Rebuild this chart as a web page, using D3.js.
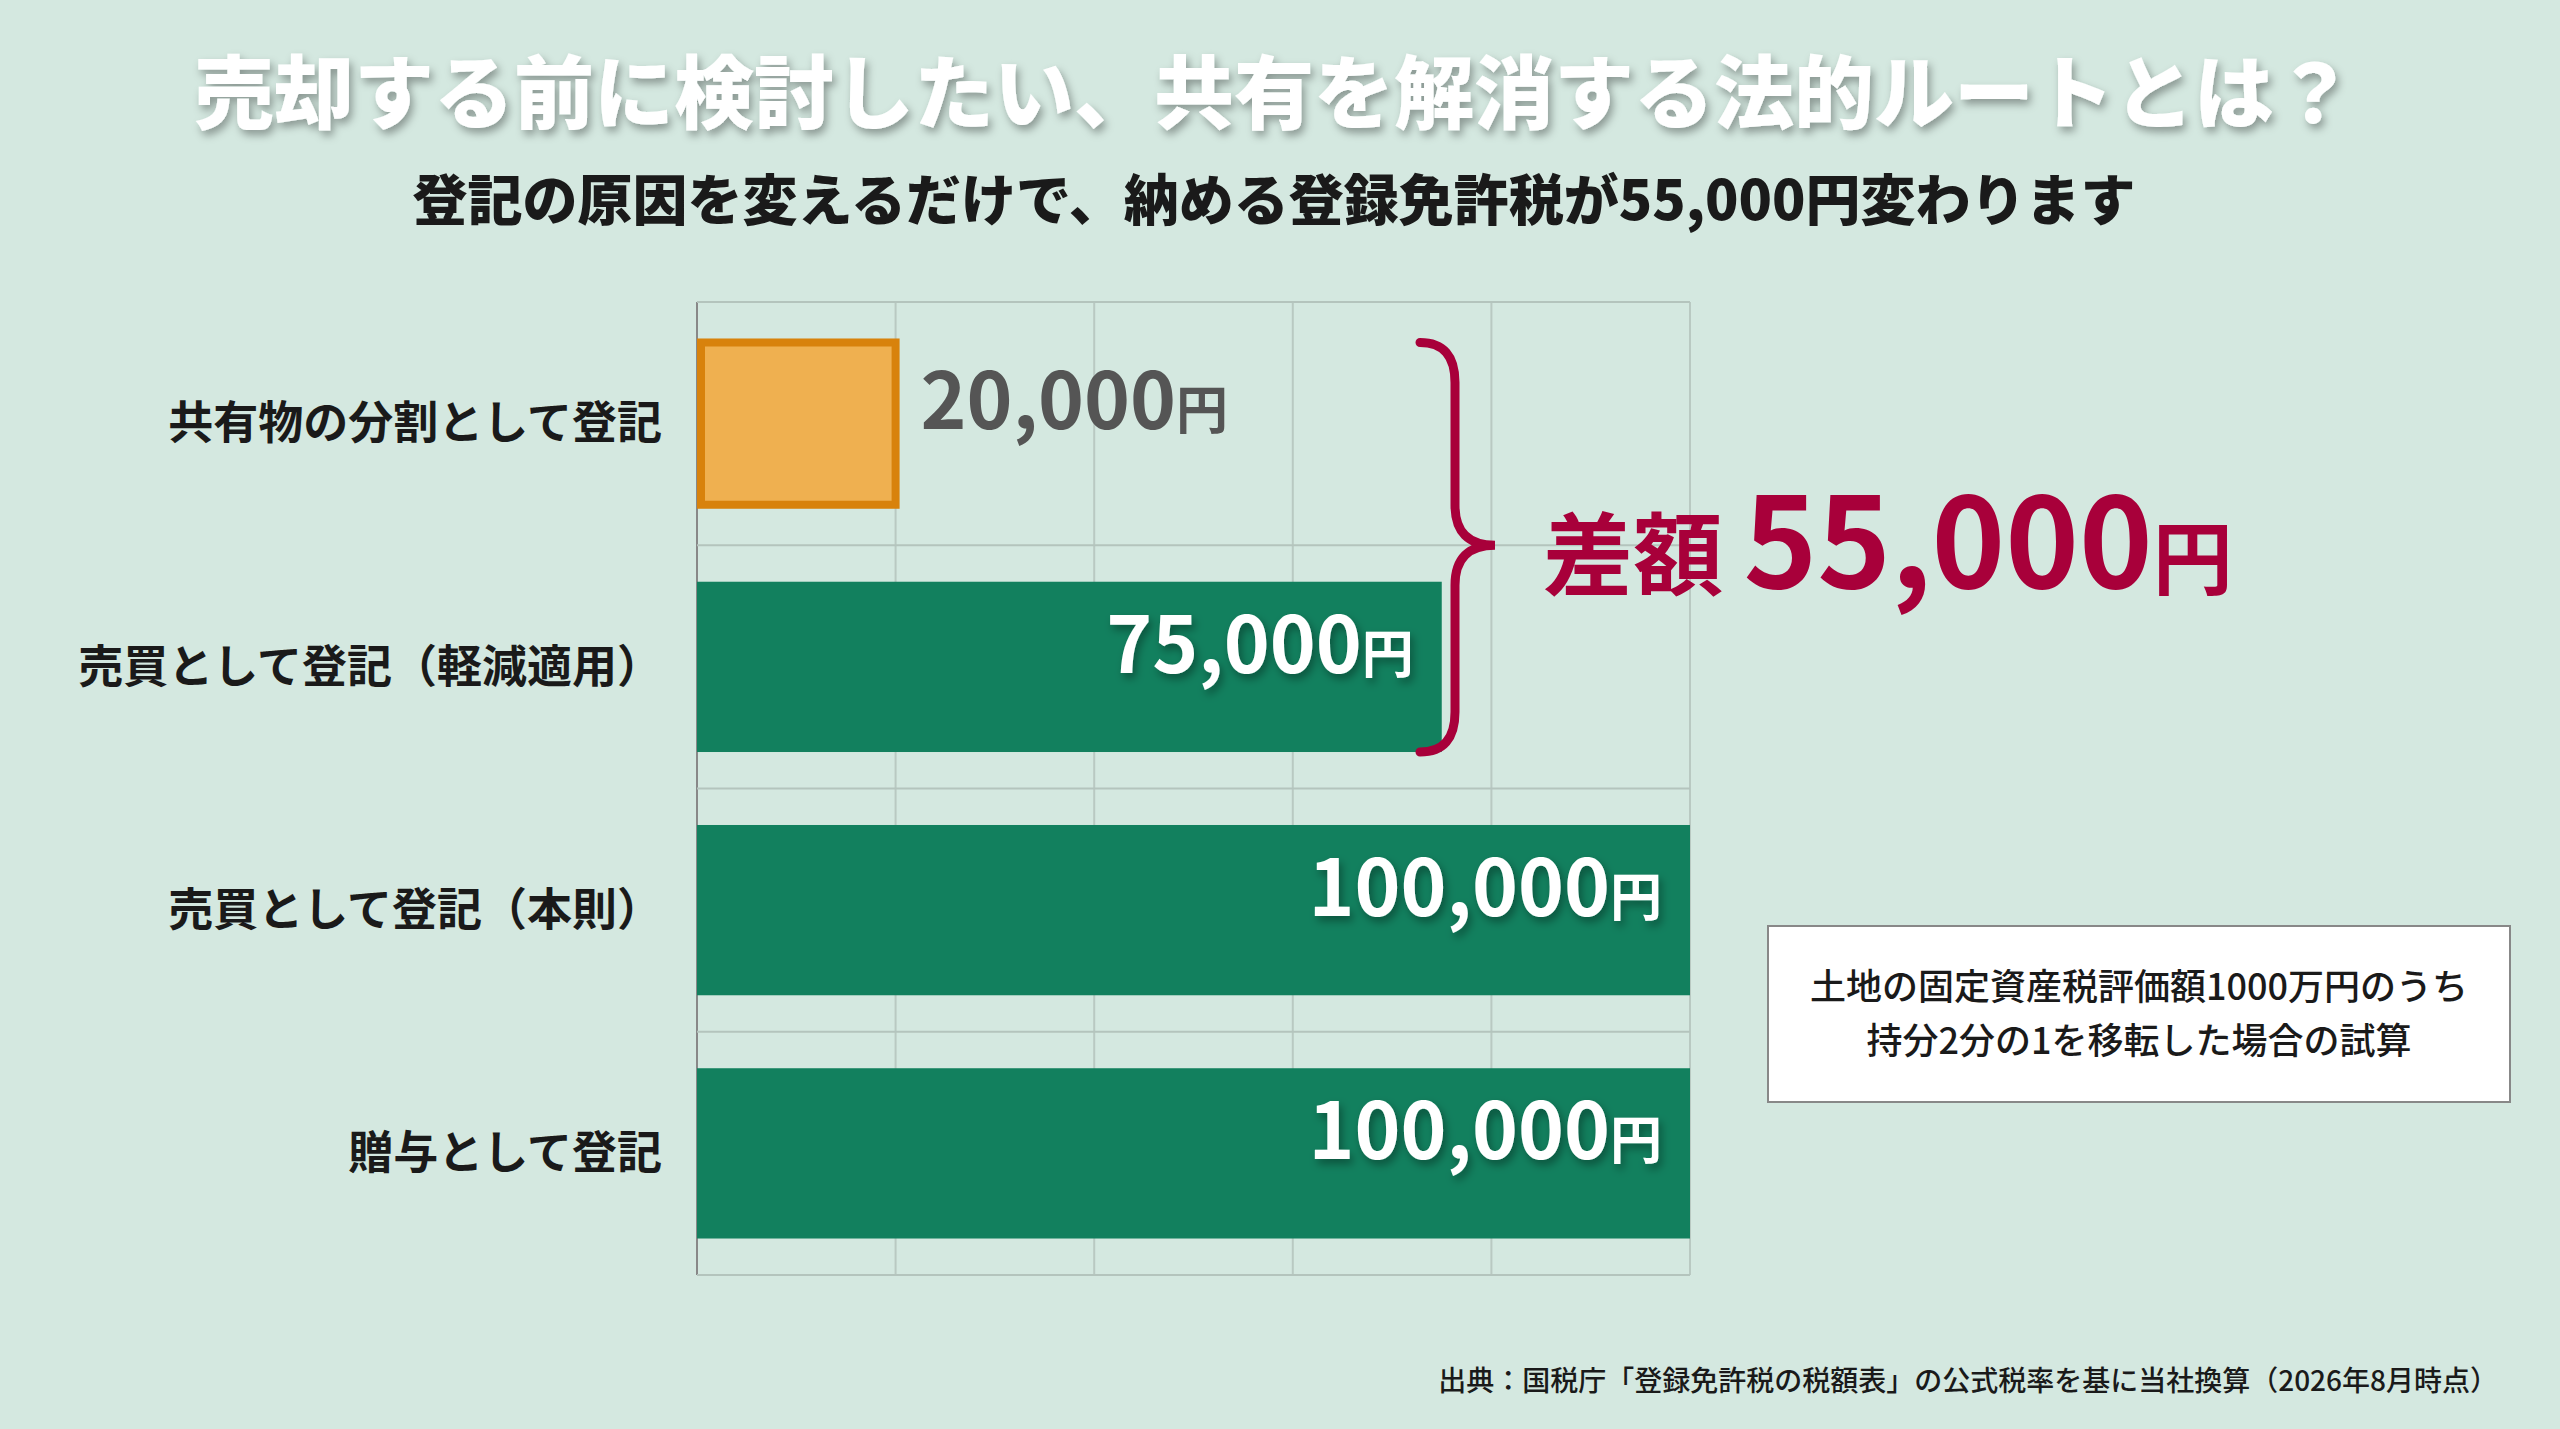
<!DOCTYPE html>
<html><head><meta charset="utf-8">
<script src="https://cdn.jsdelivr.net/npm/d3@7"></script>
<style>
body{margin:0;background:#d4e8e0;}
text{font-family:"Noto Sans CJK JP","Noto Sans",sans-serif;}
</style></head><body>
<script>
var categories = ["共有物の分割として登記", "売買として登記（軽減適用）", "売買として登記（本則）", "贈与として登記"];
var values = [20000, 75000, 100000, 100000];
var valueLabels = ["20,000", "75,000", "100,000", "100,000"];
var ticks = [0, 20000, 40000, 60000, 80000, 100000];

var W = 2560, H = 1429;
var svg = d3.select("body").append("svg").attr("width", W).attr("height", H);
svg.append("rect").attr("width", W).attr("height", H).attr("fill", "#d4e8e0");

var defs = svg.append("defs");
var f = defs.append("filter").attr("id", "shadow").attr("x", "-10%").attr("y", "-30%").attr("width", "120%").attr("height", "160%");
f.append("feDropShadow").attr("dx", 3).attr("dy", 5).attr("stdDeviation", 4).attr("flood-color", "#000").attr("flood-opacity", 0.35);

// title
svg.append("text").attr("x", 1274).attr("y", 122).attr("text-anchor", "middle")
  .attr("font-size", 80).attr("font-weight", 900).attr("fill", "#fff").attr("filter", "url(#shadow)")
  .text("売却する前に検討したい、共有を解消する法的ルートとは？");
svg.append("text").attr("x", 1274).attr("y", 220).attr("text-anchor", "middle")
  .attr("font-size", 55).attr("font-weight", 900).attr("fill", "#1a1a1a")
  .text("登記の原因を変えるだけで、納める登録免許税が55,000円変わります");

var pLeft = 697, pRight = 1690, pTop = 302, pBottom = 1275;
var x = d3.scaleLinear().domain([0, 100000]).range([pLeft, pRight]);
var y = d3.scaleBand().domain(categories).range([pTop, pBottom]).paddingInner(0.3).paddingOuter(0.15);

var g = svg.append("g");
// vertical grid
g.selectAll(".vg").data(ticks).enter().append("line")
  .attr("x1", function(d){ return x(d); }).attr("x2", function(d){ return x(d); })
  .attr("y1", pTop).attr("y2", pBottom)
  .attr("stroke", function(d){ return d === 0 ? "#888" : "#b9c9c2"; }).attr("stroke-width", 2);
// horizontal band lines
var step = (pBottom - pTop) / categories.length;
g.selectAll(".hg").data(d3.range(categories.length + 1)).enter().append("line")
  .attr("x1", pLeft).attr("x2", pRight)
  .attr("y1", function(d){ return pTop + d * step; }).attr("y2", function(d){ return pTop + d * step; })
  .attr("stroke", "#b4c4bd").attr("stroke-width", 2);

// bars
g.selectAll(".bar").data(values).enter().append("rect")
  .attr("x", function(d, i){ return x(0) + (i === 0 ? 4 : 0); })
  .attr("y", function(d, i){ return y(categories[i]) + (i === 0 ? 4 : 0); })
  .attr("width", function(d, i){ return x(d) - x(0) - (i === 0 ? 4 : 0); })
  .attr("height", function(d, i){ return y.bandwidth() - (i === 0 ? 8 : 0); })
  .attr("fill", function(d, i){ return i === 0 ? "#efb050" : "#12805e"; })
  .attr("stroke", function(d, i){ return i === 0 ? "#d8820c" : "none"; })
  .attr("stroke-width", 8);

// category labels
g.selectAll(".cat").data(categories).enter().append("text")
  .attr("x", 662).attr("y", function(d){ return y(d) + y.bandwidth() / 2; })
  .attr("dy", "0.35em").attr("text-anchor", "end")
  .attr("font-size", 45).attr("font-weight", 700).attr("fill", "#1a1a1a")
  .text(function(d){ return d; });

// value labels
values.forEach(function(v, i){
  var inside = i > 0;
  var t = g.append("text")
    .attr("x", inside ? x(v) - 28 : x(v) + 25)
    .attr("y", y(categories[i]) + y.bandwidth() / 2)
    .attr("dy", "0.36em")
    .attr("text-anchor", inside ? "end" : "start")
    .attr("font-weight", 700)
    .attr("fill", inside ? "#fff" : "#555")
    .attr("filter", inside ? "url(#shadow)" : null);
  t.append("tspan").attr("font-size", 78).text(valueLabels[i]);
  t.append("tspan").attr("font-size", 52).text("円");
});

// brace
var by0 = y(categories[0]) + 4, by1 = y(categories[1]) + y.bandwidth(), bm = pTop + step;
var bx = 1420;
svg.append("path")
  .attr("d", "M" + bx + "," + by0 + " Q" + (bx + 35) + "," + by0 + " " + (bx + 35) + "," + (by0 + 40) +
    " L" + (bx + 35) + "," + (bm - 40) + " Q" + (bx + 35) + "," + bm + " " + (bx + 75) + "," + bm +
    " Q" + (bx + 35) + "," + bm + " " + (bx + 35) + "," + (bm + 40) +
    " L" + (bx + 35) + "," + (by1 - 40) + " Q" + (bx + 35) + "," + by1 + " " + bx + "," + by1)
  .attr("fill", "none").attr("stroke", "#a8003a").attr("stroke-width", 9).attr("stroke-linecap", "round");

var dt = svg.append("text").attr("x", 1543).attr("y", 588).attr("font-weight", 700).attr("fill", "#a8003a");
dt.append("tspan").attr("font-size", 90).text("差額 ");
dt.append("tspan").attr("font-size", 125).text("55,000");
dt.append("tspan").attr("font-size", 80).text("円");

// note box
svg.append("rect").attr("x", 1768).attr("y", 926).attr("width", 742).attr("height", 176)
  .attr("fill", "#fff").attr("stroke", "#888").attr("stroke-width", 2);
svg.append("text").attr("x", 2139).attr("y", 1000).attr("text-anchor", "middle").attr("font-size", 36).attr("font-weight", 500).attr("fill", "#1a1a1a")
  .text("土地の固定資産税評価額1000万円のうち");
svg.append("text").attr("x", 2139).attr("y", 1054).attr("text-anchor", "middle").attr("font-size", 36).attr("font-weight", 500).attr("fill", "#1a1a1a")
  .text("持分2分の1を移転した場合の試算");

// source
svg.append("text").attr("x", 2498).attr("y", 1391).attr("text-anchor", "end").attr("font-size", 28).attr("font-weight", 500).attr("fill", "#1a1a1a")
  .text("出典：国税庁「登録免許税の税額表」の公式税率を基に当社換算（2026年8月時点）");
</script>
</body></html>
